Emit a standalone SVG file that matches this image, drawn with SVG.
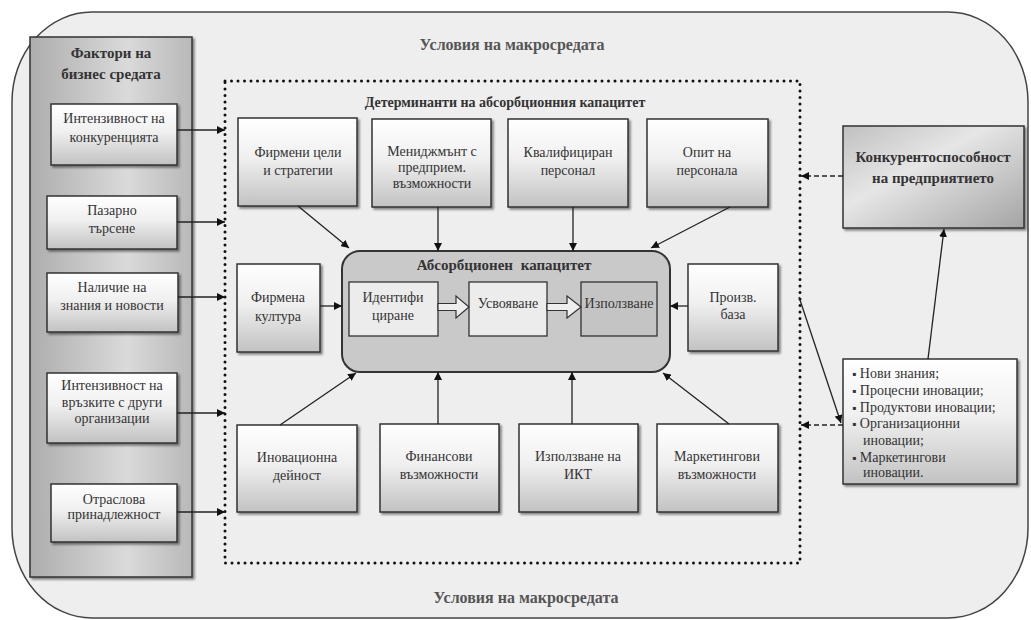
<svg xmlns="http://www.w3.org/2000/svg" width="1031" height="620" viewBox="0 0 1031 620">
<style>
.t{font-family:"Liberation Serif","Times New Roman",serif;font-size:14px;fill:#333;text-anchor:middle}
.b{font-family:"Liberation Serif","Times New Roman",serif;font-weight:bold;fill:#333;text-anchor:middle}
.g{font-family:"Liberation Serif","Times New Roman",serif;font-weight:bold;font-size:16px;fill:#555;text-anchor:middle}
.l{font-family:"Liberation Serif","Times New Roman",serif;font-size:14px;fill:#333}
.bu{font-size:12px}
.box{fill:url(#boxGrad);stroke:#333;stroke-width:1.5;filter:url(#sh)}
.ln{stroke:#222;stroke-width:1.3;fill:none}
.arw{stroke:#222;stroke-width:1.3;fill:none;marker-end:url(#ah)}
.dash{stroke:#222;stroke-width:1.3;fill:none;stroke-dasharray:5 3;marker-end:url(#ah)}
</style>
<defs>
<linearGradient id="boxGrad" x1="0" y1="0" x2="0" y2="1">
<stop offset="0" stop-color="#ffffff"/>
<stop offset="0.45" stop-color="#f0f0f0"/>
<stop offset="1" stop-color="#c2c2c2"/>
</linearGradient>
<linearGradient id="colGrad" x1="0" y1="0" x2="1" y2="0">
<stop offset="0" stop-color="#adadad"/>
<stop offset="0.6" stop-color="#dadada"/>
<stop offset="1" stop-color="#b8b8b8"/>
</linearGradient>
<linearGradient id="konkGrad" x1="0" y1="0" x2="1" y2="1">
<stop offset="0" stop-color="#c0c0c0"/>
<stop offset="0.4" stop-color="#e6e6e6"/>
<stop offset="1" stop-color="#a4a4a4"/>
</linearGradient>
<filter id="sh" x="-10%" y="-10%" width="130%" height="130%">
<feDropShadow dx="2" dy="2" stdDeviation="1" flood-color="#000" flood-opacity="0.45"/>
</filter>
<marker id="ah" viewBox="0 0 10 10" refX="10" refY="5" markerWidth="8" markerHeight="8" orient="auto" markerUnits="userSpaceOnUse">
<path d="M0,0 L10,5 L0,10 z" fill="#111"/>
</marker>
</defs>
<rect width="1031" height="620" fill="#ffffff"/>
<g id="macro">
<rect x="12" y="12" width="1016" height="606" rx="80" ry="90" fill="#eeeeee" stroke="#444" stroke-width="1.5"/>
<text class="g" x="512" y="50">Условия на макросредата</text>
<text class="g" x="526" y="603">Условия на макросредата</text>
</g>
<g id="determinants">
<rect x="225" y="81" width="575" height="482" fill="none" stroke="#111" stroke-width="3" stroke-linecap="round" stroke-dasharray="0 6.5"/>
<text class="b" x="505" y="107" font-size="14">Детерминанти на абсорбционния капацитет</text>
</g>
<g id="business-factors">
<rect x="30" y="37" width="162" height="540" fill="url(#colGrad)" stroke="#333" stroke-width="1.5" filter="url(#sh)"/>
<text class="b" x="111" y="58" font-size="15">Фактори на</text>
<text class="b" x="111" y="79" font-size="15">бизнес средата</text>
</g>
<g id="f1"><rect class="box" x="51" y="104" width="126" height="61"/><text class="t" x="114" y="123">Интензивност на</text><text class="t" x="114" y="142">конкуренцията</text></g>
<g id="f2"><rect class="box" x="47" y="196" width="130" height="53"/><text class="t" x="112" y="215">Пазарно</text><text class="t" x="112" y="233">търсене</text></g>
<g id="f3"><rect class="box" x="47" y="273" width="131" height="59"/><text class="t" x="112" y="292">Наличие на</text><text class="t" x="112" y="310">знания и новости</text></g>
<g id="f4"><rect class="box" x="47" y="373" width="130" height="70"/><text class="t" x="112" y="390">Интензивност на</text><text class="t" x="112" y="407">връзките с други</text><text class="t" x="112" y="423">организации</text></g>
<g id="f5"><rect class="box" x="51" y="484" width="126" height="58"/><text class="t" x="114" y="504">Отраслова</text><text class="t" x="114" y="519">принадлежност</text></g>
<g id="d1"><rect class="box" x="238" y="118" width="119" height="88"/><text class="t" x="298" y="157">Фирмени цели</text><text class="t" x="298" y="175">и стратегии</text></g>
<g id="d2"><rect class="box" x="372" y="119" width="119" height="88"/><text class="t" x="432" y="156">Мениджмънт с</text><text class="t" x="432" y="172">предприем.</text><text class="t" x="432" y="188">възможности</text></g>
<g id="d3"><rect class="box" x="508" y="119" width="120" height="88"/><text class="t" x="568" y="157">Квалифициран</text><text class="t" x="568" y="175">персонал</text></g>
<g id="d4"><rect class="box" x="647" y="119" width="121" height="88"/><text class="t" x="707" y="157">Опит на</text><text class="t" x="707" y="175">персонала</text></g>
<g id="d5"><rect class="box" x="237" y="264" width="83" height="88"/><text class="t" x="278" y="302">Фирмена</text><text class="t" x="278" y="321">култура</text></g>
<g id="d6"><rect class="box" x="688" y="264" width="90" height="87"/><text class="t" x="733" y="302">Произв.</text><text class="t" x="733" y="319">база</text></g>
<g id="d7"><rect class="box" x="237" y="425" width="120" height="87"/><text class="t" x="297" y="462">Иновационна</text><text class="t" x="297" y="480">дейност</text></g>
<g id="d8"><rect class="box" x="380" y="424" width="119" height="88"/><text class="t" x="439" y="461">Финансови</text><text class="t" x="439" y="479">възможности</text></g>
<g id="d9"><rect class="box" x="519" y="424" width="119" height="88"/><text class="t" x="578" y="461">Използване на</text><text class="t" x="578" y="479">ИКТ</text></g>
<g id="d10"><rect class="box" x="657" y="424" width="121" height="88"/><text class="t" x="717" y="461">Маркетингови</text><text class="t" x="717" y="479">възможности</text></g>
<g id="absorptive-capacity">
<rect x="342" y="251" width="328" height="121" rx="18" ry="18" fill="#c9c9c9" stroke="#333" stroke-width="2"/>
<text class="b" x="504" y="270" font-size="15" word-spacing="4">Абсорбционен капацитет</text>
</g>
<g id="identify"><rect x="349" y="282" width="89" height="54" fill="#ececec" stroke="#333" stroke-width="1.3"/><text class="t" x="393" y="302" font-size="15">Идентифи</text><text class="t" x="393" y="320" font-size="15">циране</text></g>
<g id="assimilate"><rect x="469" y="282" width="78" height="54" fill="#ececec" stroke="#333" stroke-width="1.3"/><text class="t" x="508" y="308" font-size="15">Усвояване</text></g>
<g id="exploit"><rect x="581" y="282" width="76" height="54" fill="#c4c4c4" stroke="#333" stroke-width="1.3"/><text class="t" x="619" y="308" font-size="15">Използване</text></g>
<g id="competitiveness">
<rect x="843" y="126" width="181" height="102" fill="url(#konkGrad)" stroke="#333" stroke-width="1.5" filter="url(#sh)"/>
<text class="b" x="933" y="162" font-size="15">Конкурентоспособност</text>
<text class="b" x="933" y="183" font-size="15">на предприятието</text>
</g>
<g id="outcomes">
<rect class="box" x="843" y="359" width="174" height="125"/>
<text class="l" x="852" y="378"><tspan class="bu">▪</tspan> Нови знания;</text>
<text class="l" x="852" y="395"><tspan class="bu">▪</tspan> Процесни иновации;</text>
<text class="l" x="852" y="412"><tspan class="bu">▪</tspan> Продуктови иновации;</text>
<text class="l" x="852" y="428"><tspan class="bu">▪</tspan> Организационни</text>
<text class="l" x="863" y="445">иновации;</text>
<text class="l" x="852" y="462"><tspan class="bu">▪</tspan> Маркетингови</text>
<text class="l" x="863" y="477">иновации.</text>
</g>
<g id="connectors">
<line class="arw" x1="177" y1="130" x2="225" y2="130"/>
<line class="arw" x1="177" y1="222" x2="225" y2="222"/>
<line class="arw" x1="178" y1="297" x2="225" y2="297"/>
<line class="arw" x1="177" y1="413" x2="225" y2="413"/>
<line class="arw" x1="177" y1="512" x2="225" y2="512"/>
<line class="arw" x1="298" y1="206" x2="349" y2="248"/>
<line class="arw" x1="438" y1="207" x2="438" y2="251"/>
<line class="arw" x1="573" y1="207" x2="573" y2="251"/>
<line class="arw" x1="730" y1="207" x2="651" y2="248"/>
<line class="arw" x1="320" y1="306" x2="342" y2="306"/>
<line class="arw" x1="688" y1="306" x2="670" y2="306"/>
<line class="arw" x1="280" y1="425" x2="356" y2="373"/>
<line class="arw" x1="438" y1="424" x2="438" y2="372"/>
<line class="arw" x1="572" y1="424" x2="572" y2="372"/>
<line class="arw" x1="729" y1="424" x2="663" y2="373"/>
<polygon points="438,303.5 456,303.5 456,296 469,307 456,318 456,310.5 438,310.5" fill="#eeeeee" stroke="#333" stroke-width="1.2"/>
<polygon points="547,303.5 567,303.5 567,296 581,307 567,318 567,310.5 547,310.5" fill="#eeeeee" stroke="#333" stroke-width="1.2"/>
<line class="dash" x1="843" y1="176" x2="801" y2="176"/>
<line class="dash" x1="843" y1="425" x2="801" y2="425"/>
<line class="arw" x1="799" y1="297" x2="841" y2="423"/>
<line class="arw" x1="928" y1="359" x2="944" y2="229"/>
</g>
</svg>
